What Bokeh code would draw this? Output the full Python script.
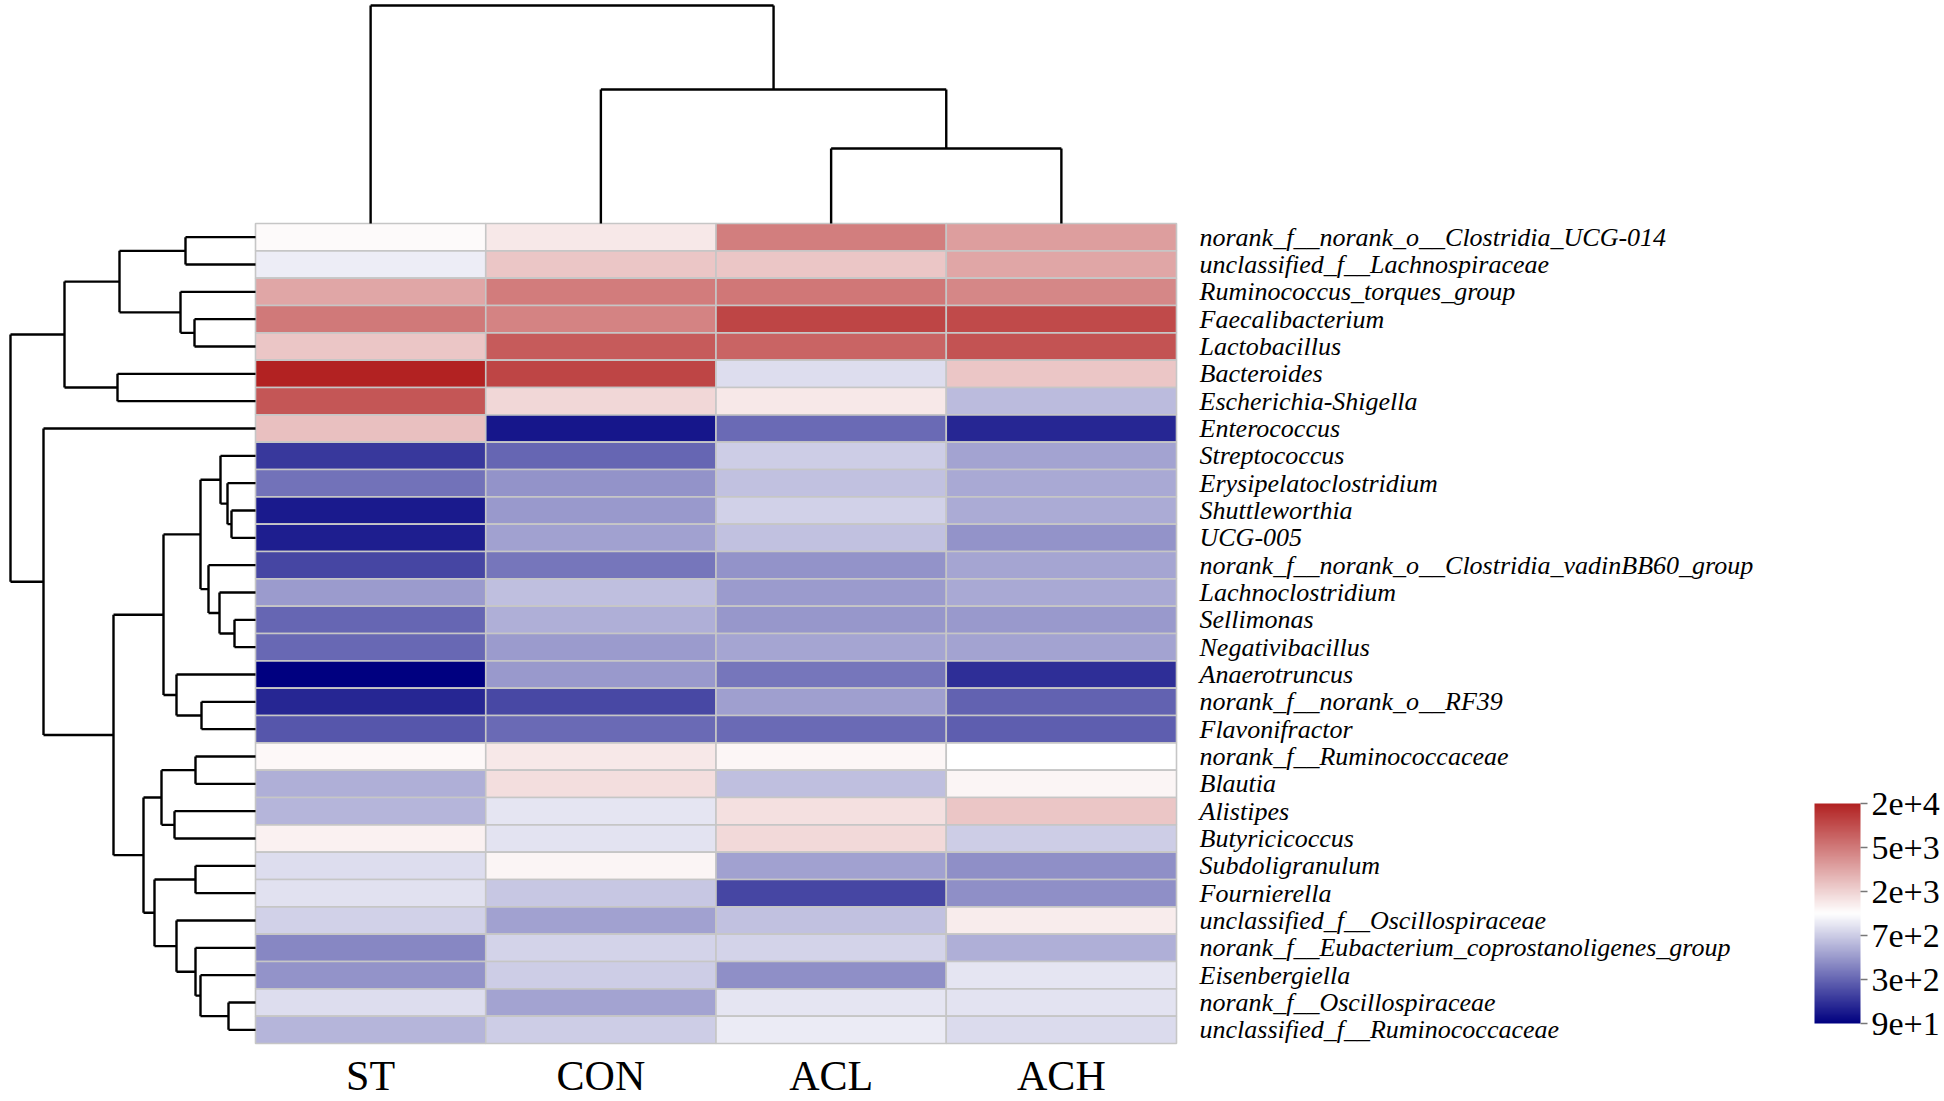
import numpy as np
from bokeh.plotting import figure
from bokeh.models import Range1d, LinearColorMapper, ColorBar, FixedTicker, ColumnDataSource
from bokeh.embed import file_html
from bokeh.resources import INLINE
from bokeh.core.properties import value

# ---------------- data ----------------
samples = ["ST", "CON", "ACL", "ACH"]
genera = [
    "norank_f__norank_o__Clostridia_UCG-014",
    "unclassified_f__Lachnospiraceae",
    "Ruminococcus_torques_group",
    "Faecalibacterium",
    "Lactobacillus",
    "Bacteroides",
    "Escherichia-Shigella",
    "Enterococcus",
    "Streptococcus",
    "Erysipelatoclostridium",
    "Shuttleworthia",
    "UCG-005",
    "norank_f__norank_o__Clostridia_vadinBB60_group",
    "Lachnoclostridium",
    "Sellimonas",
    "Negativibacillus",
    "Anaerotruncus",
    "norank_f__norank_o__RF39",
    "Flavonifractor",
    "norank_f__Ruminococcaceae",
    "Blautia",
    "Alistipes",
    "Butyricicoccus",
    "Subdoligranulum",
    "Fournierella",
    "unclassified_f__Oscillospiraceae",
    "norank_f__Eubacterium_coprostanoligenes_group",
    "Eisenbergiella",
    "norank_f__Oscillospiraceae",
    "unclassified_f__Ruminococcaceae",
]
ST = [1250, 985, 3160, 5000, 2300, 20000, 8710, 2400, 175, 334, 125, 129, 209, 468, 300,
      306, 90, 141, 250, 1280, 554, 579, 1385, 841, 864, 738, 395, 439, 841, 579]
CON = [1540, 2300, 4900, 4560, 8120, 11500, 1900, 118, 300, 439, 458, 488, 348, 630, 554,
       468, 458, 215, 313, 1540, 1754, 910, 887, 1349, 671, 488, 757, 700, 500, 700]
ACL = [4780, 2300, 5180, 11500, 7070, 841, 1540, 313, 700, 643, 738, 643, 439, 468, 449,
       510, 348, 478, 313, 1314, 630, 1709, 1849, 488, 209, 643, 757, 421, 910, 959]
ACH = [3470, 3160, 4360, 10700, 9330, 2300, 603, 141, 500, 520, 531, 439, 510, 520, 458,
       500, 155, 291, 274, 1183, 1349, 2300, 700, 421, 421, 1498, 554, 910, 887, 819]

# column clustering (leaves 0..3, merged nodes 4..)
col_link_a = [2, 1, 0]
col_link_b = [3, 4, 5]
col_link_h = [7.5, 13.4, 21.8]

# row clustering (leaves 0..29, merged nodes 30..)
row_link_a = [0, 3, 2, 30, 5, 33, 10, 9, 8, 14, 13, 12, 38, 17, 16, 42, 19, 21, 46, 23, 28, 27, 26, 25, 49, 48, 45, 7, 35]
row_link_b = [1, 4, 31, 32, 6, 34, 11, 36, 37, 15, 39, 40, 41, 18, 43, 44, 20, 22, 47, 24, 29, 50, 51, 52, 53, 54, 55, 56, 57]
row_link_h = [7.0, 6.1, 7.5, 13.6, 13.8, 19.1, 2.4, 2.8, 3.5, 2.1, 3.6, 4.7, 5.5, 5.4, 7.9, 9.2,
              6.0, 8.1, 9.4, 6.0, 2.7, 5.5, 6.0, 7.9, 10.1, 11.2, 14.2, 21.2, 24.5]

scale_ticks = [90, 300, 700, 2000, 5000, 20000]
scale_labels = ["9e+1", "3e+2", "7e+2", "2e+3", "5e+3", "2e+4"]

# ---------------- layout (px) ----------------
W, H = 1940, 1100
HL, HR, HT, HB = 255, 1176, 223, 1043
DPX = 10.0
nrow, ncol = len(genera), len(samples)
cw = (HR - HL) / ncol
rh = (HB - HT) / nrow

p = figure(width=W, height=H, output_backend="svg", toolbar_location=None,
           x_axis_type=None, y_axis_type=None, min_border=0,
           x_range=Range1d(-HL / cw, (W - HL) / cw),
           y_range=Range1d((H - HT) / rh, -HT / rh))
p.extra_x_ranges = {"rowd": Range1d(HL / DPX, (HL - W) / DPX)}
p.extra_y_ranges = {"cold": Range1d((HT - H) / DPX, HT / DPX)}
p.grid.visible = False
p.outline_line_color = None
p.background_fill_color = "white"
p.border_fill_color = "white"

# palette navy -> white -> firebrick
def ramp(c0, c1, n):
    out = []
    for k in range(n):
        f = k / (n - 1)
        r = [round(c0[j] + (c1[j] - c0[j]) * f) for j in range(3)]
        out.append("#%02x%02x%02x" % tuple(r))
    return out

palette = ramp((0, 0, 128), (255, 255, 255), 128) + ramp((255, 255, 255), (178, 34, 34), 128)[1:]
ntk = len(scale_ticks) - 1
mapper = LinearColorMapper(palette=palette, low=0, high=ntk)

# heatmap cells
vals = np.array([ST, CON, ACL, ACH], dtype=float)  # (ncol, nrow)
xs, ys, us = [], [], []
for j in range(ncol):
    for i in range(nrow):
        xs.append(j + 0.5)
        ys.append(i + 0.5)
        us.append(float(np.interp(np.log10(vals[j, i]), np.log10(scale_ticks), np.arange(ntk + 1))))
src = ColumnDataSource(dict(x=xs, y=ys, u=us))
p.rect(x="x", y="y", width=1, height=1, source=src,
       fill_color={"field": "u", "transform": mapper},
       line_color="#c6c6c6", line_width=1.6)

# dendrograms
def dendro_segments(la, lb, lh, nleaves):
    pos = {i: i + 0.5 for i in range(nleaves)}
    hgt = {i: 0.0 for i in range(nleaves)}
    segs = []
    for k, (a, b, h) in enumerate(zip(la, lb, lh)):
        for c in (a, b):
            segs.append((hgt[c], pos[c], h, pos[c]))
        segs.append((h, pos[a], h, pos[b]))
        pos[nleaves + k] = (pos[a] + pos[b]) / 2
        hgt[nleaves + k] = h
    return segs

rs = dendro_segments(row_link_a, row_link_b, row_link_h, nrow)
p.segment(x0=[s[0] for s in rs], y0=[s[1] for s in rs], x1=[s[2] for s in rs], y1=[s[3] for s in rs],
          x_range_name="rowd", line_color="black", line_width=2.4)
cs = dendro_segments(col_link_a, col_link_b, col_link_h, ncol)
p.segment(x0=[s[1] for s in cs], y0=[s[0] for s in cs], x1=[s[3] for s in cs], y1=[s[2] for s in cs],
          y_range_name="cold", line_color="black", line_width=2.4)

# row labels
p.text(x=[ncol] * nrow, y=[i + 0.5 for i in range(nrow)], text=genera, x_offset=23,
       text_baseline="middle", text_align="left", text_font=value("Liberation Serif"),
       text_font_style="italic", text_font_size="26px", text_color="black")
# column labels
p.text(x=[j + 0.5 for j in range(ncol)], y=[nrow] * ncol, text=samples, y_offset=32,
       text_baseline="middle", text_align="center", text_font=value("Liberation Serif"),
       text_font_size="42px", text_color="black")

# colour bar
cb = ColorBar(color_mapper=mapper, ticker=FixedTicker(ticks=list(range(ntk + 1))),
              major_label_overrides={k: scale_labels[k] for k in range(ntk + 1)},
              location=(1814, 77), width=46, height=220, padding=0,
              major_tick_in=0, major_tick_out=7, major_tick_line_color="#777777",
              major_tick_line_width=1.5, label_standoff=4,
              major_label_text_font="Liberation Serif", major_label_text_font_size="34px",
              major_label_text_color="black", background_fill_alpha=0,
              border_line_color=None, bar_line_color=None, orientation="vertical")
p.add_layout(cb)

open("out.html", "w").write(file_html(p, INLINE))
